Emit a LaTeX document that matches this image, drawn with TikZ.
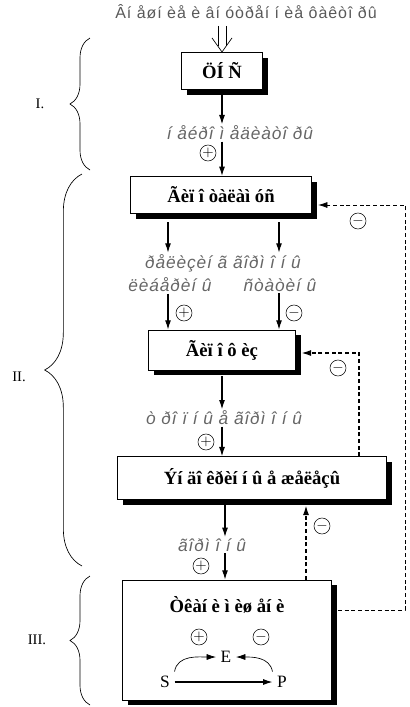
\documentclass[tikz,border=0pt]{standalone}
\usepackage{fontspec}
\setmainfont{Liberation Serif}
\setsansfont{Liberation Sans}
\usetikzlibrary{arrows.meta,shadows,calc,decorations.pathreplacing}
\tikzset{
  blok/.style={draw,fill=white,line width=0.6pt,inner sep=2pt,
    font=\bfseries\fontsize{14}{16}\selectfont,
    drop shadow={shadow xshift=4pt,shadow yshift=-4pt,fill=black,opacity=1}},
  lbl/.style={font=\sffamily\itshape\fontsize{13}{15}\selectfont\addfontfeature{LetterSpace=5},
    text=black!60,inner sep=1pt},
  sgn/.style={draw,circle,inner sep=0pt,minimum size=12pt,font=\fontsize{11}{11}\selectfont},
  arr/.style={-{Latex[length=7pt,width=4.5pt]},line width=0.8pt},
  fb/.style={arr,dash pattern=on 3pt off 2pt},
  skob/.style={decorate,line width=0.5pt},
}
\begin{document}
\begin{tikzpicture}[x=0.75pt,y=-0.75pt]
\useasboundingbox (0,0) rectangle (410,707);
% inputs
\node[font=\sffamily\fontsize{12}{14}\selectfont\addfontfeature{LetterSpace=6},text=black!65] (vh) at (246,12) {Âí åøí èå è âí óòðåí í èå ôàêòî ðû};
\node[blok,minimum width=61pt,minimum height=28pt] (cns) at (222,71) {ÖÍ Ñ};
\coordinate (dv) at (vh.south -| cns.north);
\draw[line width=0.5pt] ($(dv)+(-4,2)$) -- ($(cns.north)+(-4,-6)$);
\draw[line width=0.5pt] ($(dv)+(4,2)$) -- ($(cns.north)+(4,-6)$);
\draw[line width=0.5pt] ($(cns.north)+(-10,-14)$) -- (cns.north) -- ($(cns.north)+(10,-14)$);
% level II
\node[lbl] (nm) at (240,133) {í åéðî ì åäèàòî ðû};
\node[blok,minimum width=136pt,minimum height=28pt] (gt) at (221,195) {Ãèï î òàëàì óñ};
\node[lbl] (rg) at (223,263) {ðåëèçèí ã ãîðì î í û};
\node[lbl] (lb) at (170,285) {ëèáåðèí û};
\node[lbl] (st) at (280,285) {ñòàòèí û};
\node[blok,minimum width=110pt,minimum height=30pt] (gf) at (222,350) {Ãèï î ô èç};
\node[lbl] (tg) at (224,418) {ò ðî ï í û å ãîðì î í û};
\node[blok,minimum width=202pt,minimum height=32pt] (ez) at (252,478) {Ýí äî êðèí í û å æåëåçû};
% level III
\node[lbl] (hr) at (212,545) {ãîðì î í û};
\node[blok,minimum width=157pt,minimum height=90pt] (tk) at (227,640) {};
\node[font=\bfseries\fontsize{14}{16}\selectfont] (tkt) at (227,605) {Òêàí è ì èø åí è};
\node[font=\fontsize{13}{15}\selectfont] (s) at (165,682) {S};
\node[font=\fontsize{13}{15}\selectfont] (e) at (226,657) {E};
\node[font=\fontsize{13}{15}\selectfont] (p) at (282,682) {P};
\draw[arr] (s) -- (p);
\draw[arr,line width=0.5pt] (s.north east) to[out=80,in=180] (e.west);
\draw[arr,line width=0.5pt] (p.north west) to[out=100,in=0] (e.east);
\node[sgn] (sp1) at (199,637) {$+$};
\node[sgn] (sm1) at (261,637) {$-$};
% main arrows
\coordinate (a0) at ($(cns.south)+(0,4)$);
\draw[arr] (a0) -- (a0 |- nm.north);
\draw[arr] (a0 |- nm.south) -- (a0 |- gt.north);
\node[sgn] (p1) at (208,153) {$+$};
\coordinate (a1) at (168,222);
\coordinate (a2) at (279,222);
\draw[arr] (a1) -- (a1 |- rg.north);
\draw[arr] (a2) -- (a2 |- rg.north);
\draw[arr] (a1 |- lb.south) -- (a1 |- gf.north);
\draw[arr] (a2 |- st.south) -- (a2 |- gf.north);
\node[sgn] (p2) at (184,313) {$+$};
\node[sgn] (m2) at (294,313) {$-$};
\coordinate (a3) at ($(gf.south)+(0,6)$);
\draw[arr] (a3) -- (a3 |- tg.north);
\draw[arr] (a3 |- tg.south) -- (a3 |- ez.north);
\node[sgn] (p3) at (206,442) {$+$};
\coordinate (a4) at (225,505);
\draw[arr] (a4) -- (a4 |- hr.north);
\draw[arr] (a4 |- hr.south) -- (a4 |- tk.north);
\node[sgn] (p4) at (201,566) {$+$};
% feedback
\coordinate (fa) at (405,610);
\coordinate (fb) at (405,205);
\draw[fb,line width=0.6pt] ($(tk.east |- fa)+(6,0)$) -- (fa) -- (fb) -- ($(gt.east |- fb)+(6,0)$);
\node[sgn] (m1) at (358,221) {$-$};
\coordinate (fc) at (359,353);
\draw[fb] (ez.north -| fc) -- (fc) -- ($(gf.east |- fc)+(6,0)$);
\node[sgn] (m3) at (338,368) {$-$};
\coordinate (fd) at (306,560);
\draw[fb] (tk.north -| fd) -- ($(ez.south -| fd)+(0,6)$);
\node[sgn] (m4) at (322,526) {$-$};
% braces
\draw[skob,decoration={brace,amplitude=15pt}] (90,170) -- (90,38);
\draw[skob,decoration={brace,amplitude=28pt}] (82,566) -- (82,174);
\draw[skob,decoration={brace,amplitude=15pt}] (90,705) -- (90,576);
\node[font=\fontsize{11}{12}\selectfont] (r1) at (40,104) {I.};
\node[font=\fontsize{11}{12}\selectfont] (r2) at (19,377) {II.};
\node[font=\fontsize{11}{12}\selectfont] (r3) at (37,640) {III.};
\end{tikzpicture}
\end{document}
